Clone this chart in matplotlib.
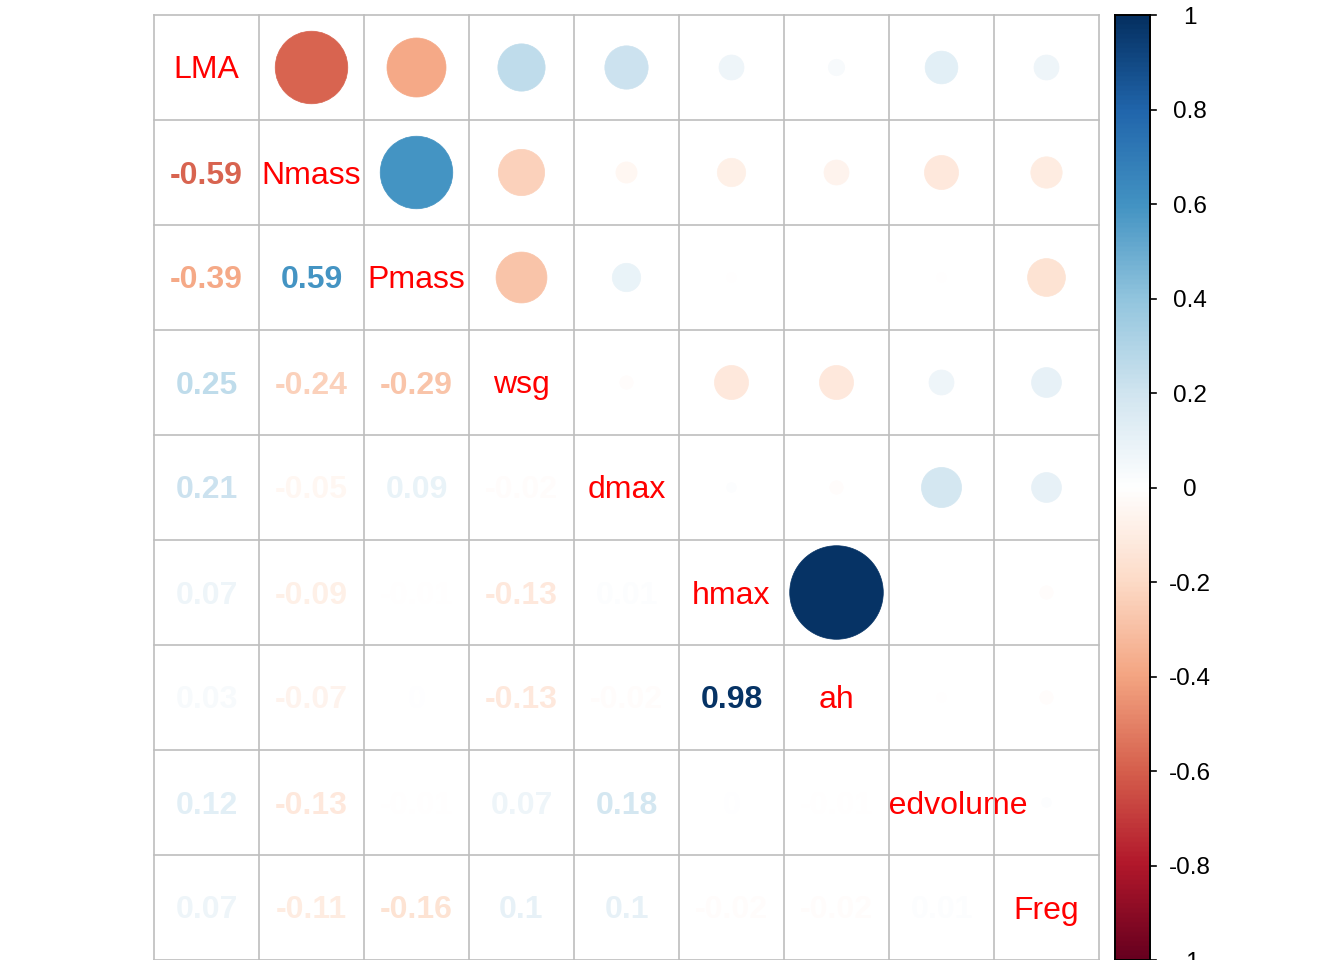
import numpy as np
import matplotlib
matplotlib.use("Agg")
import matplotlib.pyplot as plt
from matplotlib.colors import LinearSegmentedColormap
from matplotlib.patches import Circle, Rectangle

# variable names (diagonal labels)
labels = ["LMA", "Nmass", "Pmass", "wsg", "dmax", "hmax", "ah", "seedvolume", "Freg"]

# lower triangle of the correlation matrix, row by row
lower = [
    [-0.59],
    [-0.39, 0.59],
    [0.25, -0.24, -0.29],
    [0.21, -0.05, 0.09, -0.02],
    [0.07, -0.09, -0.01, -0.13, 0.01],
    [0.03, -0.07, 0.00, -0.13, -0.02, 0.98],
    [0.12, -0.13, -0.01, 0.07, 0.18, 0.00, -0.01],
    [0.07, -0.11, -0.16, 0.10, 0.10, -0.02, -0.02, 0.01],
]

cbar_ticks = [-1, -0.8, -0.6, -0.4, -0.2, 0, 0.2, 0.4, 0.6, 0.8, 1]

n = len(labels)
corr = np.eye(n)
for i, row in enumerate(lower):
    for j, v in enumerate(row):
        corr[i + 1, j] = v
        corr[j, i + 1] = v

# corrplot's RdBu palette
cmap = LinearSegmentedColormap.from_list("rdbu", [
    "#67001F", "#B2182B", "#D6604D", "#F4A582", "#FDDBC7", "#FFFFFF",
    "#D1E5F0", "#92C5DE", "#4393C3", "#2166AC", "#053061"], N=200)


def col(v):
    return cmap((v + 1) / 2)


def fmt(v):
    s = f"{v:.2f}".rstrip("0").rstrip(".")
    return "0" if s in ("-0", "") else s


W, H = 1344, 960
fig = plt.figure(figsize=(W / 100, H / 100), dpi=100)
ax = fig.add_axes([154 / W, 0, 945 / W, 945 / H])
ax.set_xlim(0, n)
ax.set_ylim(0, n)
ax.axis("off")

font = "Liberation Sans"
grid_col = "#BEBEBE"
dy = 3 / 105  # small downward nudge of cell texts

for i in range(n):
    yc = n - i - 0.5
    # diagonal label
    ax.text(i + 0.5, yc - dy, labels[i], color="red", fontsize=23, family=font,
            ha="center", va="center", zorder=2)
    for j in range(n):
        xc = j + 0.5
        v = corr[i, j]
        if j > i:
            r = 0.45 * np.sqrt(abs(v))
            ax.add_patch(Circle((xc, yc), r, facecolor=col(v), edgecolor=col(v),
                                lw=0.5, zorder=1))
        elif j < i:
            # white cell background covers overflowing diagonal labels
            ax.add_patch(Rectangle((j, n - i - 1), 1, 1, facecolor="white",
                                   edgecolor="none", zorder=3))
            ax.text(xc, yc - dy, fmt(v), color=col(v), fontsize=23, family=font,
                    fontweight="bold", ha="center", va="center", zorder=4)

for k in range(n + 1):
    ax.plot([k, k], [0, n], color=grid_col, lw=1.2, zorder=5, clip_on=False)
    ax.plot([0, n], [k, k], color=grid_col, lw=1.2, zorder=5, clip_on=False)

# colour legend
cax = fig.add_axes([1115 / W, 0, 35 / W, 945 / H])
grad = np.linspace(-1, 1, 400).reshape(-1, 1)
cax.imshow(grad, cmap=cmap, vmin=-1, vmax=1, aspect="auto", origin="lower",
           extent=[0, 1, -1, 1])
cax.set_xlim(0, 1)
cax.set_ylim(-1, 1)
cax.set_xticks([])
cax.set_yticks([])
for s in cax.spines.values():
    s.set_linewidth(1.4)
    s.set_color("black")
tr = cax.get_yaxis_transform()
for t in cbar_ticks:
    cax.plot([1.0, 1.17], [t, t], color="black", lw=1.2, transform=tr, clip_on=False)
    cax.text(2.14, t - 0.006, fmt(t), transform=tr, ha="center", va="center",
             fontsize=17.5, family=font, color="black", clip_on=False)

fig.savefig("out.png", dpi=100, facecolor="white")
